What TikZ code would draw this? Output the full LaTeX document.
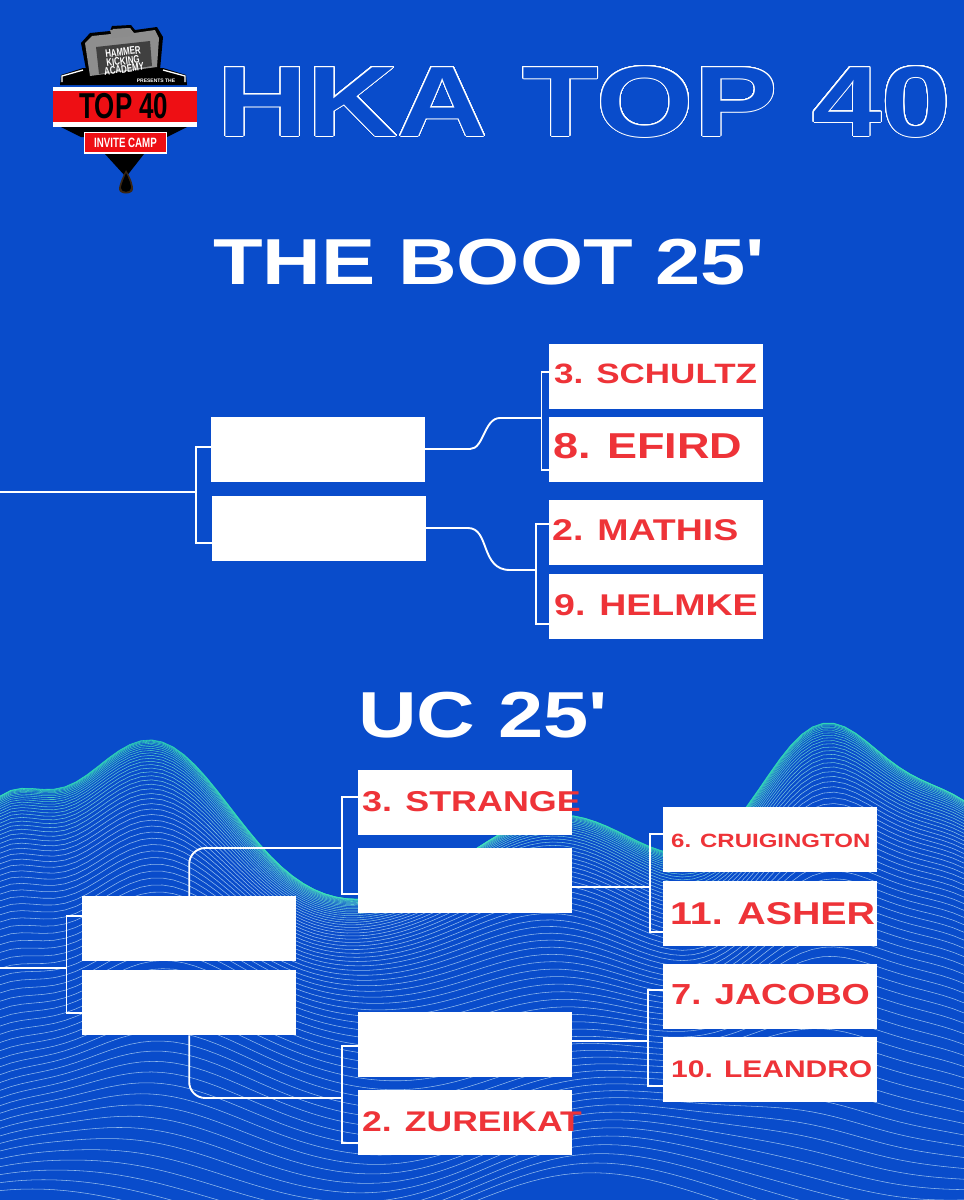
\documentclass[tikz,border=0pt]{standalone}
\usepackage{fontspec}
\usepackage[copies]{contour}
\contournumber{32}
\newfontfamily\widebold{Liberation Sans}[UprightFont=* Bold,FakeStretch=1.25]
\newfontfamily\plainbold{Liberation Sans}[UprightFont=* Bold]
\newfontfamily\narrowbold{Liberation Sans}[UprightFont=* Bold,FakeStretch=0.72]
\definecolor{hblue}{HTML}{094CCB}
\definecolor{hred}{HTML}{EE3338}
\definecolor{mint}{HTML}{2FE6B0}
\definecolor{palew}{HTML}{A9CDF2}
\definecolor{logored}{HTML}{EE0F14}
\definecolor{logogrey}{HTML}{8E8E8E}
\begin{document}
\begin{tikzpicture}[x=1pt,y=-1pt,
  declare function={g(\p,\m,\s)=exp(-min(60,((\p-\m)/\s)^2));},
  slot/.style={fill=white,draw=none,inner sep=0pt,minimum width=214pt,minimum height=65pt,anchor=north west},
  name label/.style={text=hred,inner sep=0pt,anchor=base west},
  heading/.style={text=white,inner sep=0pt,anchor=base west},
  conn/.style={draw=white,line width=1.9pt,line join=miter},
  wave/.style={line width=0.55pt}]
\useasboundingbox (0,0) rectangle (964,1200);
\fill[hblue] (0,0) rectangle (964,1200);

% ---- wave background
\begin{scope}
\clip (0,0) rectangle (964,1200);
\foreach \i in {0,...,68}{
  \pgfmathsetmacro\ss{\i/68}
  \pgfmathsetmacro\tt{\ss*\ss}
  \pgfmathsetmacro\mixv{min(100,\ss*280)}
  \pgfmathsetmacro\bb{915+300*\tt}
  \pgfmathsetmacro\cA{87*(1-\tt)^1.4}
  \pgfmathsetmacro\cB{175*(1-\tt)^1.4}
  \pgfmathsetmacro\cC{100*(1-\tt)+18*\tt}
  \pgfmathsetmacro\cD{186*(1-\tt)^1.7}
  \pgfmathsetmacro\cE{93*(1-\tt)^1.4}
  \pgfmathsetmacro\cW{26*sqrt(\tt)}
  \pgfmathsetmacro\cP{250*\tt}
  \draw[wave,draw=palew!\mixv!mint,opacity=0.85] plot[domain=0:964,samples=90,variable=\p]
    ({\p},{\bb-\cA*g(\p,0,60)-\cB*g(\p,150,115)-\cC*g(\p,560,130)-\cD*g(\p,824,95)-\cE*g(\p,964,80)+\cW*sin(\p*0.62+\cP)});
}
\end{scope}

% ---- logo
\begin{scope}
\fill[black] (60,85) -- (61,75) -- (83,68) -- (163,68) -- (186,75) -- (187,85) -- cycle;
\draw[white,line width=1.3pt] (62,82) -- (62,76) -- (83,70);
\draw[white,line width=1.3pt] (185,82) -- (185,76) -- (163,70);
\fill[black] (81,43) -- (90,33) -- (110,31) -- (112,26) -- (131,25) -- (135,30) -- (157,27) -- (163,37) -- (160,70) -- (88,80) -- cycle;
\fill[logogrey] (85,43) -- (92,36) -- (111,34) -- (113,29) -- (130,28) -- (134,33) -- (155,30) -- (159,38) -- (157,67) -- (90,76) -- cycle;
\fill[black!45] (110,30) -- (130,28) -- (133,36) -- (112,38) -- cycle;
\fill[black!75] (96,47) -- (150,41) -- (152,66) -- (99,74) -- cycle;
\node[text=white,inner sep=0pt,rotate=7] (logoa) at (123,52) {\narrowbold\fontsize{11}{11}\selectfont HAMMER};
\node[text=white,inner sep=0pt,rotate=7] (logob) at (123,61) {\narrowbold\fontsize{11}{11}\selectfont KICKING};
\node[text=white,inner sep=0pt,rotate=7] (logoc) at (124,69) {\narrowbold\fontsize{11}{11}\selectfont ACADEMY};
\node[text=white,inner sep=0pt] (logod) at (156,81) {\plainbold\fontsize{5}{5}\selectfont PRESENTS THE};
\fill[white] (53,87) rectangle (197,127);
\fill[logored] (53,90.5) rectangle (197,122);
\fill[black] (61,127) -- (187,127) -- (167,137) -- (81,137) -- cycle;
\node[text=black,inner sep=0pt] (logoe) at (124,106.5) {\narrowbold\fontsize{36}{36}\selectfont TOP 40};
\fill[white] (84,132) rectangle (167,154);
\fill[logored] (85,133) rectangle (166,152);
\node[text=white,inner sep=0pt] (logof) at (125.5,143) {\narrowbold\fontsize{13.5}{13.5}\selectfont INVITE CAMP};
\fill[black] (105,154) -- (144,154) -- (126,177) -- cycle;
\fill[black!70!brown] (126,170) .. controls (132,180) and (133,186) .. (133,189) .. controls (133,195) and (119,195) .. (119,189) .. controls (119,186) and (121,180) .. (126,170) -- cycle;
\fill[black] (126,173) .. controls (130,181) and (131,185) .. (131,188) .. controls (131,193) and (121,193) .. (121,188) .. controls (121,185) and (123,181) .. (126,173) -- cycle;
\end{scope}

% ---- headings
\contourlength{1pt}
\node[inner sep=0pt,anchor=base west,text=hblue] (title) at (217,136)
  {\widebold\fontsize{100}{100}\selectfont\contour{white}{HKA TOP 40}};
\node[heading] (boot) at (213,284) {\widebold\fontsize{65}{65}\selectfont THE BOOT 25'};
\node[heading] (uc) at (358,737) {\widebold\fontsize{65}{65}\selectfont UC 25'};

% ---- THE BOOT boxes
\node[slot] (ba) at (211,417) {};
\node[slot] (bb) at (212,496) {};
\node[slot] (bc) at (549,344) {};
\node[slot] (bd) at (549,417) {};
\node[slot] (be) at (549,500) {};
\node[slot] (bf) at (549,574) {};
\node[name label] (lc) at (554,383) {\widebold\fontsize{28}{28}\selectfont 3. SCHULTZ};
\node[name label] (ld) at (553,458) {\widebold\fontsize{36}{36}\selectfont 8. EFIRD};
\node[name label] (le) at (552,540) {\widebold\fontsize{30}{30}\selectfont 2. MATHIS};
\node[name label] (lf) at (554,615) {\widebold\fontsize{30}{30}\selectfont 9. HELMKE};

% ---- UC boxes
\node[slot] (ua) at (82,896) {};
\node[slot] (ub) at (82,970) {};
\node[slot] (uc1) at (358,770) {};
\node[slot] (uc2) at (358,848) {};
\node[slot] (uc3) at (358,1012) {};
\node[slot] (uc4) at (358,1090) {};
\node[slot] (ud1) at (663,807) {};
\node[slot] (ud2) at (663,881) {};
\node[slot] (ud3) at (663,964) {};
\node[slot] (ud4) at (663,1037) {};
\node[name label] (lu1) at (362,811) {\widebold\fontsize{28.7}{28.7}\selectfont 3. STRANGE};
\node[name label] (lu4) at (362,1131) {\widebold\fontsize{28.4}{28.4}\selectfont 2. ZUREIKAT};
\node[name label] (lv1) at (671,847) {\widebold\fontsize{19.2}{19.2}\selectfont 6. CRUIGINGTON};
\node[name label] (lv2) at (670,924) {\widebold\fontsize{31.5}{31.5}\selectfont 11. ASHER};
\node[name label] (lv3) at (671,1004) {\widebold\fontsize{29}{29}\selectfont 7. JACOBO};
\node[name label] (lv4) at (671,1077) {\widebold\fontsize{24}{24}\selectfont 10. LEANDRO};

% ---- junction coordinates
\coordinate (bin) at (0,492);
\coordinate (bj) at (196,492);
\coordinate (bja) at (196,447);
\coordinate (bjb) at (196,543);
\coordinate (bka) at (541.5,372);
\coordinate (bkm) at (541.5,418);
\coordinate (bkb) at (541.5,470);
\coordinate (bla) at (536,524);
\coordinate (blm) at (536,570);
\coordinate (blb) at (536,624);
\coordinate (uin) at (0,968);
\coordinate (uj) at (66.5,968);
\coordinate (uja) at (66.5,916);
\coordinate (ujb) at (66.5,1013);
\coordinate (uka) at (342,797);
\coordinate (ukm) at (342,848);
\coordinate (ukb) at (342,894);
\coordinate (ula) at (342,1046);
\coordinate (ulm) at (342,1098);
\coordinate (ulb) at (342,1143);
\coordinate (uma) at (650,834);
\coordinate (umm) at (650,887);
\coordinate (umb) at (650,932);
\coordinate (una) at (648,990);
\coordinate (unm) at (648,1041);
\coordinate (unb) at (648,1086);

% ---- THE BOOT connectors
\draw[conn] (bin) -- (bj);
\draw[conn] (ba.west |- bja) -- (bja) -- (bjb) -- (bb.west |- bjb);
\draw[conn] (bc.west |- bka) -- (bka) -- (bkb) -- (bd.west |- bkb);
\draw[conn] (be.west |- bla) -- (bla) -- (blb) -- (bf.west |- blb);
\draw[conn] (ba.east) ++(0,-0.5) -- ++(40,0) .. controls ++(10,0) and ++(-10,0) .. ++(0,0) ;
\draw[conn] (425,449) -- (470,449) .. controls (484,449) and (484,418) .. (500,418) -- (bkm);
\draw[conn] (426,528) -- (468,528) .. controls (490,528) and (480,570) .. (510,570) -- (blm);

% ---- UC connectors
\draw[conn] (uin) -- (uj);
\draw[conn] (ua.west |- uja) -- (uja) -- (ujb) -- (ub.west |- ujb);
\draw[conn,rounded corners=16pt] (ua.north) -- (ua.north |- ukm) -- (ukm);
\draw[conn,rounded corners=16pt] (ub.south) -- (ub.south |- ulm) -- (ulm);
\draw[conn] (uc1.west |- uka) -- (uka) -- (ukb) -- (uc2.west |- ukb);
\draw[conn] (uc3.west |- ula) -- (ula) -- (ulb) -- (uc4.west |- ulb);
\draw[conn] (ud1.west |- uma) -- (uma) -- (umb) -- (ud2.west |- umb);
\draw[conn] (ud3.west |- una) -- (una) -- (unb) -- (ud4.west |- unb);
\draw[conn] (uc2.east |- umm) -- (umm);
\draw[conn] (uc3.east |- unm) -- (unm);
\end{tikzpicture}
\end{document}
